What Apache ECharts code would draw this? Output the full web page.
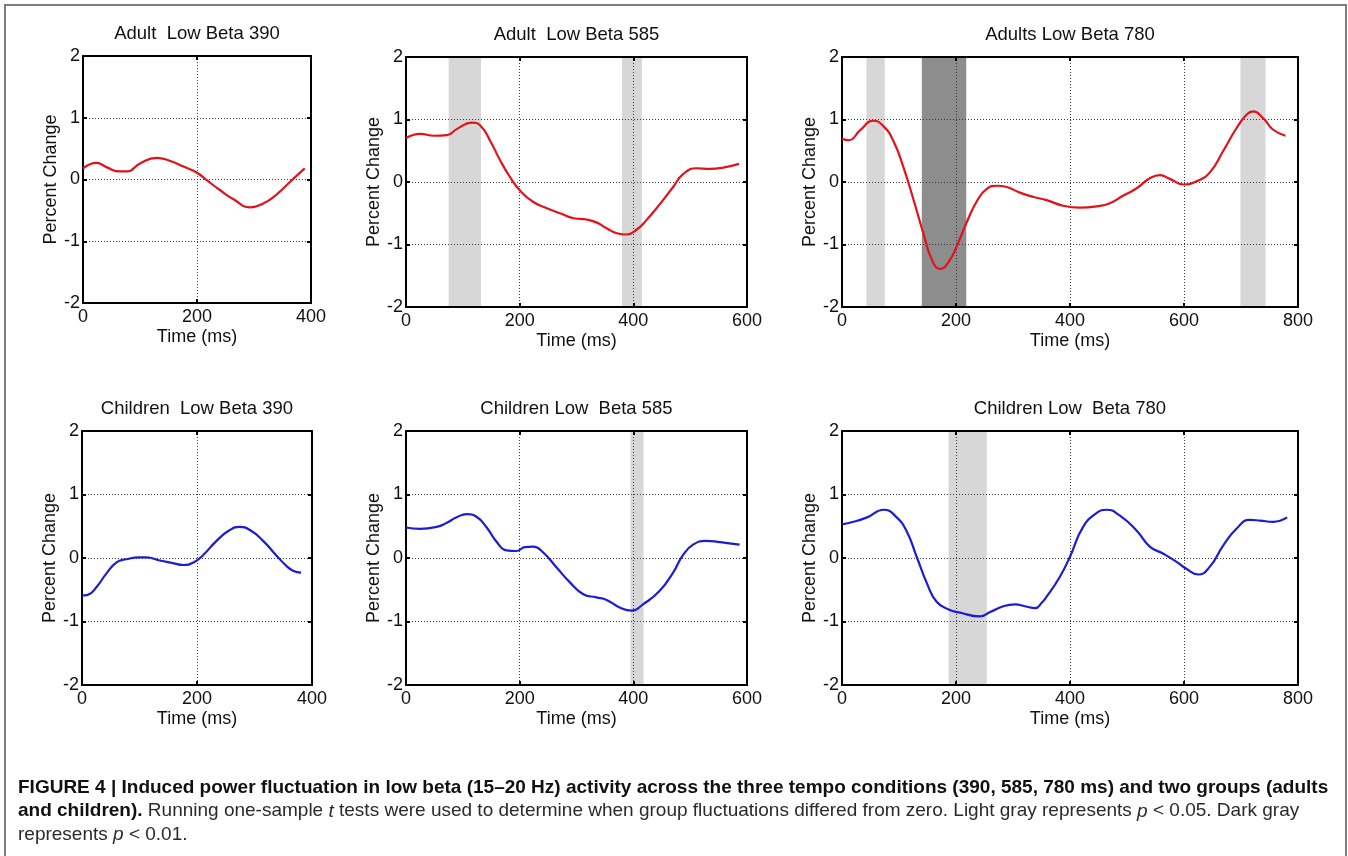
<!DOCTYPE html>
<html>
<head>
<meta charset="utf-8">
<title>Figure 4 - low beta</title>
<script src="https://cdn.jsdelivr.net/npm/echarts@6/dist/echarts.min.js"></script>
<style>
    html, body { margin: 0; padding: 0; background: #fff; }
    #fig { width: 1348px; height: 856px; }
</style>
</head>
<body>
<div id="fig"></div>
<script>
// ---- data (time in ms, percent change) ----
var adult390_t = [0, 24, 41, 65, 77, 100, 129, 153, 176, 200, 217, 240, 264, 293, 316, 340, 363, 389];
var adult390_v = [0.18, 0.27, 0.20, 0.13, 0.13, 0.26, 0.35, 0.30, 0.21, 0.11, -0.01, -0.17, -0.32, -0.45, -0.39, -0.24, -0.04, 0.18];

var adult585_t = [0, 25, 49, 72, 90, 116, 131, 148, 166, 183, 201, 224, 248, 271, 295, 318, 336, 353, 371, 388, 406, 423, 447, 470, 488, 511, 535, 558, 586];
var adult585_v = [0.70, 0.77, 0.74, 0.75, 0.85, 0.95, 0.90, 0.66, 0.34, 0.08, -0.14, -0.32, -0.42, -0.50, -0.58, -0.60, -0.65, -0.74, -0.82, -0.84, -0.76, -0.61, -0.35, -0.08, 0.13, 0.22, 0.21, 0.23, 0.29];

var adult780_t = [0, 12, 32, 55, 73, 90, 108, 126, 143, 158, 172, 187, 202, 219, 237, 254, 272, 289, 312, 336, 359, 388, 417, 447, 470, 493, 517, 540, 558, 575, 599, 622, 645, 669, 692, 710, 721, 739, 756, 778];
var adult780_v = [0.69, 0.67, 0.83, 0.98, 0.89, 0.66, 0.23, -0.30, -0.83, -1.25, -1.39, -1.28, -1.01, -0.64, -0.30, -0.11, -0.06, -0.08, -0.17, -0.24, -0.29, -0.38, -0.41, -0.39, -0.34, -0.22, -0.10, 0.06, 0.11, 0.05, -0.04, 0.01, 0.15, 0.50, 0.86, 1.08, 1.13, 1.02, 0.84, 0.74];

var children390_t = [0, 10, 25, 42, 60, 77, 100, 112, 135, 158, 176, 194, 210, 234, 257, 274, 292, 315, 338, 355, 367, 381];
var children390_v = [-0.59, -0.58, -0.46, -0.25, -0.07, -0.02, 0.01, 0.01, -0.04, -0.08, -0.11, -0.07, 0.04, 0.27, 0.44, 0.49, 0.44, 0.27, 0.04, -0.12, -0.20, -0.23];

var children585_t = [0, 25, 54, 71, 89, 107, 124, 142, 159, 177, 194, 209, 224, 241, 265, 288, 312, 335, 353, 376, 397, 417, 446, 470, 487, 505, 528, 552, 569, 587];
var children585_v = [0.48, 0.46, 0.49, 0.55, 0.64, 0.69, 0.65, 0.48, 0.26, 0.12, 0.11, 0.17, 0.18, 0.09, -0.15, -0.38, -0.57, -0.62, -0.66, -0.78, -0.83, -0.73, -0.52, -0.23, 0.04, 0.21, 0.27, 0.25, 0.23, 0.21];

var children780_t = [0, 20, 44, 73, 96, 114, 131, 149, 166, 187, 207, 242, 260, 283, 304, 321, 339, 350, 359, 382, 400, 423, 447, 464, 487, 517, 540, 563, 587, 604, 625, 645, 669, 692, 715, 733, 756, 781];
var children780_v = [0.53, 0.57, 0.64, 0.76, 0.64, 0.41, 0.02, -0.40, -0.69, -0.81, -0.86, -0.92, -0.85, -0.76, -0.73, -0.76, -0.79, -0.71, -0.61, -0.30, 0.02, 0.49, 0.71, 0.76, 0.67, 0.43, 0.18, 0.07, -0.06, -0.17, -0.26, -0.14, 0.20, 0.46, 0.60, 0.59, 0.57, 0.64];

// significance windows (ms): light = p < 0.05, dark = p < 0.01
var adult585_light = [[75, 132], [380, 415]];
var adult780_light = [[43, 75], [699, 743]];
var adult780_dark = [[140, 218]];
var children585_light = [[395, 418]];
var children780_light = [[187, 254]];

var panel_titles = ['Adult  Low Beta 390', 'Adult  Low Beta 585', 'Adults Low Beta 780',
                    'Children  Low Beta 390', 'Children Low  Beta 585', 'Children Low  Beta 780'];
var x_max = [400, 600, 800, 400, 600, 800];
var y_min = -2, y_max = 2, y_step = 1, x_step = 200;

var FONT = '"Liberation Sans", Arial, Helvetica, sans-serif';
var RED = '#e2121a', BLUE = '#1c1cd2';
var LIGHT = '#d7d7d7', DARK = '#8d8d8d';

var Page = {

    chart: null,

    // plot boxes in px (left, top, width, height)
    boxes: [
        [83, 56, 228, 247],
        [406, 57, 341, 250],
        [842, 57, 456, 250],
        [82, 431, 230, 254],
        [406, 431, 341, 254],
        [842, 431, 456, 254]
    ],

    panels: [
        { t: adult390_t, v: adult390_v, color: RED, light: [], dark: [] },
        { t: adult585_t, v: adult585_v, color: RED, light: adult585_light, dark: [] },
        { t: adult780_t, v: adult780_v, color: RED, light: adult780_light, dark: adult780_dark },
        { t: children390_t, v: children390_v, color: BLUE, light: [], dark: [] },
        { t: children585_t, v: children585_v, color: BLUE, light: children585_light, dark: [] },
        { t: children780_t, v: children780_v, color: BLUE, light: children780_light, dark: [] }
    ],

    init: function () {
        this.chart = echarts.init(document.getElementById('fig'), null, { renderer: 'canvas' });
        this.chart.setOption(this.build_option());
    },

    edge_axis: function (i, pos, max, step) {
        // top / right frame with inward ticks, no labels
        return {
            type: 'value', gridIndex: i, position: pos, min: pos == 'top' ? 0 : y_min, max: max, interval: step,
            z: 1.5,
            axisLine: { show: true, onZero: false, lineStyle: { color: '#000', width: 2 } },
            axisTick: { show: true, inside: true, length: 4, lineStyle: { color: '#000', width: 2 } },
            axisLabel: { show: false },
            splitLine: { show: false }
        };
    },

    build_option: function () {
        var that = this;
        var grids = [], xs = [], ys = [], series = [], titles = [];
        var txt = { color: '#111', fontSize: 18, fontFamily: FONT };
        var dots = { color: '#3a3a3a', width: 1, type: [1, 2] };

        for (var i = 0; i < 6; i++) {
            var b = that.boxes[i];
            var p = that.panels[i];
            grids.push({ left: b[0], top: b[1], width: b[2], height: b[3], containLabel: false });

            titles.push({
                text: panel_titles[i], left: b[0] + b[2] / 2, top: b[1] - 32, textAlign: 'center', padding: 0,
                textStyle: { color: '#111', fontSize: 18.5, fontWeight: 'normal', fontFamily: FONT }
            });

            xs.push({
                type: 'value', gridIndex: i, position: 'bottom', min: 0, max: x_max[i], interval: x_step,
                z: 1.5,
                axisLine: { show: true, onZero: false, lineStyle: { color: '#000', width: 2 } },
                axisTick: { show: true, inside: true, length: 4, lineStyle: { color: '#000', width: 2 } },
                axisLabel: { margin: 5, color: txt.color, fontSize: txt.fontSize, fontFamily: FONT },
                splitLine: { show: true, lineStyle: dots },
                name: 'Time (ms)', nameLocation: 'middle', nameGap: 25, nameTextStyle: txt
            });
            xs.push(that.edge_axis(i, 'top', x_max[i], x_step));

            ys.push({
                type: 'value', gridIndex: i, position: 'left', min: y_min, max: y_max, interval: y_step,
                z: 1.5,
                axisLine: { show: true, onZero: false, lineStyle: { color: '#000', width: 2 } },
                axisTick: { show: true, inside: true, length: 4, lineStyle: { color: '#000', width: 2 } },
                axisLabel: { margin: 3, color: txt.color, fontSize: txt.fontSize, fontFamily: FONT },
                splitLine: { show: true, lineStyle: dots },
                name: 'Percent Change', nameLocation: 'middle', nameGap: 23, nameTextStyle: txt
            });
            ys.push(that.edge_axis(i, 'right', y_max, y_step));

            var pts = [];
            for (var j = 0; j < p.t.length; j++) {
                pts.push([p.t[j], p.v[j]]);
            }

            var areas = [];
            p.light.forEach(function (w) {
                areas.push([{ xAxis: w[0], itemStyle: { color: LIGHT } }, { xAxis: w[1] }]);
            });
            p.dark.forEach(function (w) {
                areas.push([{ xAxis: w[0], itemStyle: { color: DARK } }, { xAxis: w[1] }]);
            });

            series.push({
                type: 'line', xAxisIndex: 2 * i, yAxisIndex: 2 * i,
                data: pts, showSymbol: false, symbol: 'none', smooth: 0.5,
                lineStyle: { color: p.color, width: 2.2 }, z: 2,
                markArea: { silent: true, z: 1, label: { show: false }, data: areas }
            });
        }

        var cap = '{b|FIGURE 4 | Induced power fluctuation in low beta (15\u201320 Hz) activity across the three tempo conditions (390, 585, 780 ms) and two groups (adults}\n' +
            '{b|and children).}{n| Running one-sample }{i|t}{n| tests were used to determine when group fluctuations differed from zero. Light gray represents }{i|p}{n| < 0.05. Dark gray}\n' +
            '{n|represents }{i|p}{n| < 0.01.}';

        return {
            animation: false,
            backgroundColor: '#fff',
            title: titles,
            grid: grids,
            xAxis: xs,
            yAxis: ys,
            series: series,
            graphic: [
                {
                    type: 'rect', silent: true,
                    shape: { x: 5, y: 5, width: 1341, height: 900 },
                    style: { fill: 'none', stroke: '#7d7d7d', lineWidth: 2 }
                },
                {
                    type: 'text', silent: true, x: 18, y: 776,
                    style: {
                        text: cap, verticalAlign: 'top', fill: '#1a1a1a',
                        fontSize: 19, fontFamily: FONT, lineHeight: 23.5,
                        rich: {
                            b: { fontSize: 19, fontFamily: FONT, fontWeight: 'bold', fill: '#111', lineHeight: 23.5 },
                            n: { fontSize: 19, fontFamily: FONT, fill: '#2a2a2a', lineHeight: 23.5 },
                            i: { fontSize: 19, fontFamily: FONT, fontStyle: 'italic', fill: '#2a2a2a', lineHeight: 23.5 }
                        }
                    }
                }
            ]
        };
    }
};

Page.init();
</script>
</body>
</html>
